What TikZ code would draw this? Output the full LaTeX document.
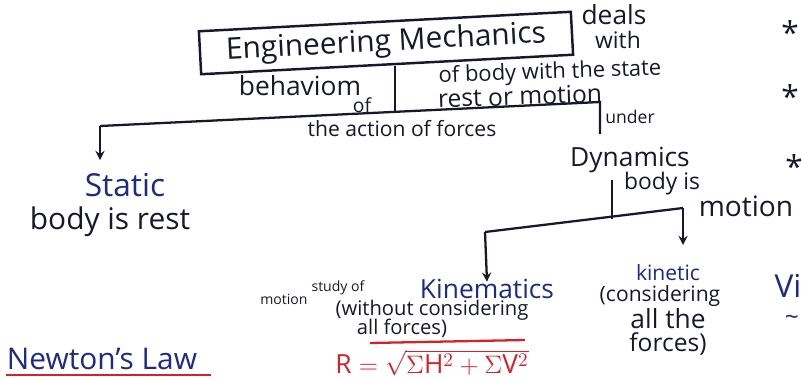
\documentclass[tikz,border=0pt]{standalone}
\usepackage{fontspec}
\setmainfont{Open Sans}
\usepackage{amsmath}
\usetikzlibrary{positioning,arrows}
\definecolor{inkc}{HTML}{17182E}
\definecolor{bluec}{HTML}{1C2A88}
\definecolor{redc}{HTML}{D8202A}
\newcommand{\fs}[1]{\fontsize{#1}{#1}\selectfont}

\begin{document}
\begin{tikzpicture}[x=0.02cm,y=-0.02cm,line width=1.2pt,
	hand/.style={text=inkc,inner sep=0pt},
	bluehand/.style={text=bluec,inner sep=0pt},
	tree/.style={draw=inkc,line width=1.3pt},
	arr/.style={tree,-stealth}]
	\useasboundingbox (0,0) rectangle (802,380);
	\node[hand,draw=inkc,line width=1.4pt,rotate=3,minimum width=7.45cm,minimum height=0.86cm] (em) at (386,43) {\fs{17}Engineering Mechanics};
	\node[hand] (deals) at (614,15) {\fs{15}deals};
	\node[hand] (with) at (618,40) {\fs{13}with};
	\node[hand] (behav) at (300,86) {\fs{15}behaviom};
	\node[hand] (of) at (362,105) {\fs{11}of};
	\node[hand,rotate=2] (state) at (550,73) {\fs{12.5}of body with the state};
	\node[hand,rotate=2] (rest) at (520,96) {\fs{14}rest or motion};
	\node[hand] (forces) at (402,129) {\fs{12}the action of forces};
	\node[hand] (under) at (630,117) {\fs{10}under};
	\coordinate (divtop) at (395,66);
	\coordinate (divbot) at (395,113);
	\coordinate (lineL) at (100,126);
	\coordinate (lineR) at (600,102);
	\coordinate (stubR) at (600,134);
	\draw[tree] (divtop) -- (divbot);
	\draw[tree] (lineL) -- (lineR) -- (stubR);
	\node[bluehand] (static) at (125,185) {\fs{18}Static};
	\node[hand] (rest2) at (110,222) {\fs{17}body is rest};
	\draw[arr] (lineL) -- ++(0,34);
	\node[hand] (dyn) at (630,160) {\fs{15}Dynamics};
	\node[hand] (bodyis) at (662,184) {\fs{13}body is};
	\node[hand] (motion) at (746,206) {\fs{16}motion};
	\coordinate (stem) at (612,219);
	\coordinate (brL) at (485,232);
	\coordinate (brR) at (683,208);
	\draw[tree] (dyn.south -| stem) ++(0,6) -- (stem);
	\draw[tree] (brL) -- (brR);
	\node[bluehand] (kinem) at (487,289) {\fs{15}Kinematics};
	\node[hand] (kinet) at (668,273) {\fs{12}\textcolor{bluec}{kinetic}};
	\draw[arr] (brL) -- ([yshift=-2pt]kinem.north);
	\draw[arr] (brR) -- ++(0,37);
	\node[hand] (study) at (338,288) {\fs{8}study of};
	\node[hand] (mot2) at (284,299) {\fs{8}motion};
	\node[hand] (without) at (432,310) {\fs{11.5}(without considering};
	\node[hand] (allf) at (402,328) {\fs{11.5}all forces)};
	\draw[draw=redc,line width=1.3pt] (370,343) -- (525,340);
	\node[text=redc,inner sep=0pt] (eqn) at (432,363) {\fs{15}$\mathrm{R} = \sqrt{\Sigma \mathrm{H}^2 + \Sigma \mathrm{V}^2}$};
	\node[hand] (consid) at (660,296) {\fs{12}(considering};
	\node[hand] (allthe) at (668,319) {\fs{15}all the};
	\node[hand] (forces2) at (668,344) {\fs{14}forces)};
	\node[bluehand] (vi) at (788,286) {\fs{18}Vi};
	\node[bluehand] (tilde) at (792,320) {\fs{14}\char`\~};
	\node[hand] (star1) at (790,32) {\fs{18}*};
	\node[hand] (star2) at (790,96) {\fs{18}*};
	\node[hand] (star3) at (794,166) {\fs{18}*};
	\node[bluehand] (newton) at (102,359) {\fs{17}Newton's Law};
	\draw[draw=redc,line width=1.3pt] (newton.south west) ++(0,4) -- ++(205,0);
\end{tikzpicture}
\end{document}
